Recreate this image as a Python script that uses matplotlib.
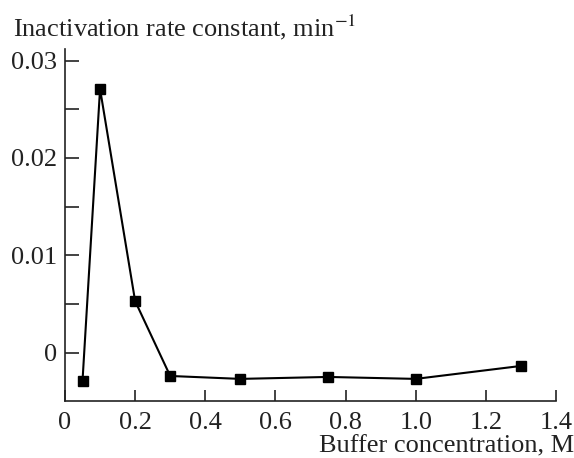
"""Inactivation rate constant vs buffer concentration."""

import matplotlib

matplotlib.use("Agg")
import matplotlib.pyplot as plt
from matplotlib.ticker import MultipleLocator, FuncFormatter

buffer_conc = [0.05, 0.1, 0.2, 0.3, 0.5, 0.75, 1.0, 1.3]
rate_const = [-0.0029, 0.0271, 0.0053, -0.0024, -0.0027, -0.0025, -0.0027, -0.00137]
x_ticks = [0, 0.2, 0.4, 0.6, 0.8, 1.0, 1.2, 1.4]
x_tick_labels = ["0", "0.2", "0.4", "0.6", "0.8", "1.0", "1.2", "1.4"]

plt.rcParams["font.family"] = ["Liberation Serif", "DejaVu Serif"]
plt.rcParams["mathtext.fontset"] = "stix"
ink = "#222222"

fig = plt.figure(figsize=(5.74, 4.58), dpi=100)
ax = fig.add_axes([0.1132, 0.1245, 0.8554, 0.7685])

ax.plot(buffer_conc, rate_const, color="black", lw=1.5, marker="s", ms=7.5, clip_on=False)

ax.set_xlim(0, 1.4)
ax.set_ylim(-0.00497, 0.0312)
ax.spines["top"].set_visible(False)
ax.spines["right"].set_visible(False)
for sp in ("left", "bottom"):
    ax.spines[sp].set_linewidth(1.2)
    ax.spines[sp].set_color(ink)

ax.set_xticks(x_ticks)
ax.set_xticklabels(x_tick_labels)
ax.yaxis.set_major_locator(MultipleLocator(0.01))
ax.yaxis.set_minor_locator(MultipleLocator(0.005))
ax.yaxis.set_major_formatter(FuncFormatter(lambda v, _: "0" if abs(v) < 1e-9 else f"{v:.2f}"))

ax.tick_params(axis="both", which="both", direction="in", width=1.2, color=ink,
               labelsize=19, labelcolor=ink)
ax.tick_params(axis="y", which="both", length=10, pad=5.5)
ax.tick_params(axis="x", which="both", length=8, pad=8)

fig.text(0.022, 1 - 36 / 458, "Inactivation rate constant, min$^{-1}$", fontsize=19,
         color=ink, ha="left", va="baseline")
fig.text(0.9995, 1 - 452 / 458, "Buffer concentration, M", fontsize=19,
         color=ink, ha="right", va="baseline")

fig.savefig("out.png", dpi=100)
